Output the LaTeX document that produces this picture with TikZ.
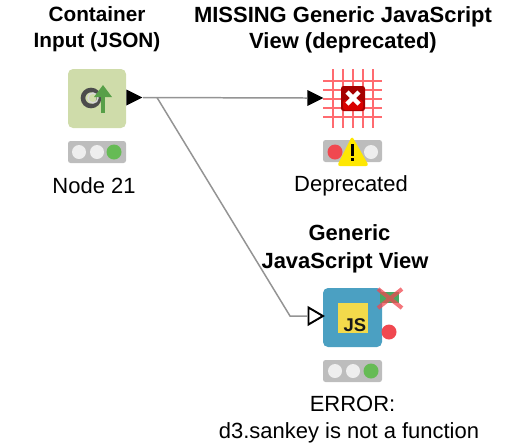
\documentclass[tikz,border=0pt]{standalone}
\usepackage{fontspec}
\setmainfont{Liberation Sans}
\usetikzlibrary{shapes.geometric}
\definecolor{srcgreen}{HTML}{CFDCAA}
\definecolor{lampgrey}{HTML}{BDBDBD}
\definecolor{lampoff}{HTML}{EEEEEE}
\definecolor{lampgreen}{HTML}{66BB55}
\definecolor{lampred}{HTML}{F04850}
\definecolor{jsblue}{HTML}{4BA0C2}
\definecolor{jsyellow}{HTML}{F3DA4B}
\definecolor{gridred}{HTML}{FF6B70}
\tikzset{
	title/.style={font=\fontsize{12.5}{15}\selectfont\bfseries, align=center},
	status/.style={font=\fontsize{12.5}{15.2}\selectfont, align=center},
	port/.style={isosceles triangle, isosceles triangle apex angle=60, isosceles triangle stretches, minimum width=3.2mm, minimum height=3.2mm, inner sep=0pt, anchor=west},
	link/.style={draw=black!42, line width=0.85pt}
}
\begin{document}
\begin{tikzpicture}[x=0.2mm, y=-0.2mm]
	\useasboundingbox (0,0) rectangle (512,446);
	% --- node 21: container input ---
	\fill[srcgreen, rounded corners=1mm] (68,69) rectangle (126,128);
	\draw[black!70, line width=2.6pt] (91,98) circle (8);
	\draw[black!15, line width=0.8pt] (93,98) circle (5);
	\draw[lampgreen!85!black, line width=2.2pt] (103,113) -- (103,94);
	\fill[lampgreen!85!black] (103,85) -- (112,97) -- (94,97) -- cycle;
	\fill[lampgrey, rounded corners=0.5mm] (68,141) rectangle (126,163);
	\fill[lampoff] (79,152) circle (7);
	\fill[lampoff] (97,152) circle (7);
	\fill[lampgreen] (114,152) circle (7.5);
	\node[port, fill=black] (outsrc) at (126,97.5) {};
	\node[title, font=\fontsize{11.8}{14.8}\selectfont\bfseries] (titlesrc) at (97,29.5) {Container\\Input (JSON)};
	\node[status] (statsrc) at (94,186) {Node 21};

	% --- missing node: red grid ---
	\foreach \gx in {333,343,353,363,373}
		\draw[gridred, line width=0.75pt] (\gx,69) -- (\gx,128);
	\foreach \gy in {81,90,99,108,117}
		\draw[gridred, line width=0.75pt] (323,\gy) -- (382,\gy);
	\fill[red!65!black, rounded corners=0.5mm] (341,86) rectangle (365,111);
	\fill[red!85!black, rounded corners=0.5mm] (343,100) rectangle (363,110);
	\draw[white, line width=2.6pt] (347,92) -- (359,104) (359,92) -- (347,104);
	\fill[lampgrey, rounded corners=0.5mm] (323,140) rectangle (382,162);
	\fill[lampred] (335,152) circle (7.5);
	\fill[lampoff] (371,152) circle (7);
	\fill[yellow!90!orange, rounded corners=0.6mm] (352,136) -- (369,166) -- (337,166) -- cycle;
	\fill[black] (350.5,144) rectangle (353.5,156);
	\fill[black] (350.5,158) rectangle (353.5,161);
	\node[port, fill=black] (inmiss) at (307,98) {};
	\node[title] (titlemiss) at (343,29.5) {MISSING Generic JavaScript\\View (deprecated)};
	\node[status] (statmiss) at (351,186) {Deprecated};

	% --- generic view: blue JS node ---
	\fill[jsblue, rounded corners=1mm] (323,288) rectangle (382,347);
	\fill[jsyellow] (338,303) rectangle (368,333);
	\node[font=\fontsize{10.5}{12}\selectfont\bfseries, text=black!90, inner sep=0pt] (jstag) at (355,325) {JS};
	\fill[lampgreen!70!teal] (380,292) rectangle (399,303);
	\draw[lampred, opacity=0.75, line width=2.3pt] (378,289) -- (402,308) (402,289) -- (378,308);
	\fill[lampred] (389,332) circle (7.5);
	\fill[lampgrey, rounded corners=0.5mm] (323,360) rectangle (382,382);
	\fill[lampoff] (335,371) circle (7);
	\fill[lampoff] (353,371) circle (7);
	\fill[lampgreen] (371,371) circle (7.5);
	\node[port, draw=black, fill=white, line width=1.1pt, minimum width=3.4mm, minimum height=2.9mm] (injs) at (307.5,316) {};
	\node[title, font=\fontsize{12.5}{15.8}\selectfont\bfseries] (titlejs) at (345,248.5) {\hspace*{1.8mm}Generic\\JavaScript View};
	\node[status] (statjs) at (349,419.5) {\hspace*{1.4mm}ERROR:\\d3.sankey is not a function};

	% --- connections ---
	\coordinate (fork) at (157,97.5);
	\coordinate (bend) at (290,316);
	\draw[link] (outsrc.apex) -- (inmiss.west);
	\draw[link] (fork) -- (bend) -- (injs.west);
\end{tikzpicture}
\end{document}
